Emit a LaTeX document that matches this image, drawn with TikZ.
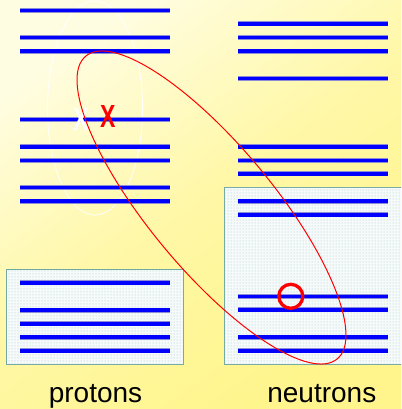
\documentclass[tikz,border=0pt]{standalone}
\usepackage{fontspec}
\setmainfont{Liberation Sans}
\usetikzlibrary{patterns}
\definecolor{bgtop}{RGB}{255,253,225}
\definecolor{bgbottom}{RGB}{255,245,140}
\definecolor{boxedge}{RGB}{115,170,160}
\definecolor{boxdots}{RGB}{160,195,200}
\definecolor{boxfill}{RGB}{246,250,250}
\definecolor{levelrim}{RGB}{140,140,215}

\begin{document}
\begin{tikzpicture}[
x=1pt, y=-1pt,
level/.style={
  line width=3.6pt,
  blue,
  preaction={draw, line width=5pt, levelrim}
  },
shellbox/.style={
  draw=boxedge,
  line width=1pt,
  fill=boxfill,
  postaction={pattern=dots, pattern color=boxdots}
  },
partlabel/.style={font=\fontsize{28}{32}\selectfont, anchor=base},
crossmark/.style={font=\fontsize{32}{32}\selectfont\bfseries, xscale=0.72, inner sep=0pt}
]
\useasboundingbox (0,0) rectangle (401,409);
\clip (0,0) rectangle (401,409);
\fill[top color=bgtop, bottom color=bgbottom, middle color=bgbottom!70!bgtop, shading angle=35] (0,0) rectangle (401,409);
% white ellipse round the proton levels
\draw[white, line width=0.8pt] (95,108) ellipse [x radius=47.5pt, y radius=107pt];
% filled shells
\draw[shellbox] (6.7,269.3) rectangle (183.3,364.3);
\draw[shellbox] (224.3,187.7) rectangle (410,364.3);
% proton levels
\foreach \y in {10.7,37.7,51.3,119.3,146.7,160.3,187.3,201,282.7,310,323.7,337,350.7}
  \draw[level] (20,\y) -- (170,\y);
% neutron levels
\foreach \y in {24,37.7,51.3,78.7,146.7,160.3,173.7,201,214.7,296.3,309.7,337,350.7}
  \draw[level] (238.3,\y) -- (387.7,\y);
\node[crossmark, white] (hole) at (80.8,119.2) {X};
\node[crossmark, red] (particle) at (107.8,116.7) {X};
\draw[red, line width=1pt] (211.5,207.5) ellipse [x radius=196.8pt, y radius=62pt, rotate=-50.3];
\draw[red, line width=3.3pt] (290.8,296.3) circle [radius=12pt];
\node[partlabel] (protons) at (95.5,402) {protons};
\node[partlabel] (neutrons) at (321.8,402) {neutrons};
\end{tikzpicture}
\end{document}
